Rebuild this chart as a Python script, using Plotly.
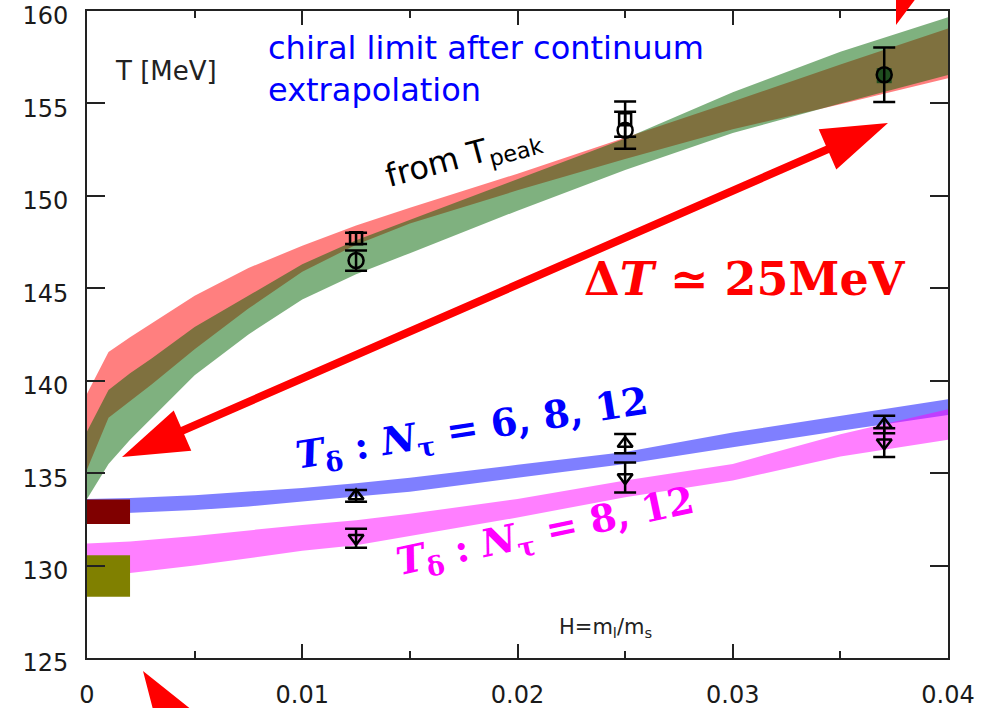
import math
import plotly.graph_objects as go

# ---------------- data ----------------
# band edges: T [MeV] versus H = m_l/m_s
h_grid = [0, 0.001, 0.002, 0.003, 0.005, 0.0075, 0.01, 0.0125, 0.015, 0.02, 0.025, 0.03, 0.035, 0.04]
tpeak_red_hi = [139.3, 141.55, 142.35, 143.1, 144.6, 146.1, 147.3, 148.4, 149.35, 151.2, 153.15, 155.1, 157.1, 159.05]
tpeak_red_lo = [135.2, 138.0, 138.9, 139.8, 141.7, 143.9, 145.9, 147.35, 148.5, 150.3, 152.0, 153.6, 154.95, 156.36]
tpeak_grn_hi = [137.25, 139.5, 140.4, 141.2, 142.9, 144.6, 146.3, 147.6, 148.7, 150.9, 153.1, 155.6, 157.8, 159.66]
tpeak_grn_lo = [133.6, 135.5, 136.8, 138.0, 140.3, 142.5, 144.4, 145.76, 146.9, 149.2, 151.4, 153.4, 155.0, 156.54]

h_grid_d = [0, 0.002, 0.005, 0.0075, 0.01, 0.0125, 0.015, 0.02, 0.025, 0.03, 0.035, 0.04]
tdelta_6812_hi = [133.6, 133.65, 133.8, 134.0, 134.2, 134.46, 134.75, 135.45, 136.15, 137.2, 138.1, 139.0]
tdelta_6812_lo = [132.75, 132.85, 133.0, 133.2, 133.45, 133.73, 134.0, 134.75, 135.5, 136.4, 137.3, 138.15]
tdelta_812_hi = [131.2, 131.3, 131.6, 131.9, 132.2, 132.45, 132.8, 133.6, 134.6, 135.5, 137.1, 138.45]
tdelta_812_lo = [129.5, 129.6, 130.0, 130.4, 130.8, 131.1, 131.6, 132.6, 133.7, 134.6, 135.9, 136.8]

# chiral-limit boxes
box_h = [0, 0.002]
box_dark_red = [132.25, 133.57]
box_olive = [128.32, 130.56]

# lattice points at H = 1/80, 1/40, 1/27
h_pts = [1 / 80, 1 / 40, 1 / 27]
t_square = [147.7, 154.15]
e_square = [0.3, 0.95]
t_square_phys = [156.5]
t_circle = [146.5, 153.55, 156.55]
e_circle = [0.55, 1.0, 1.47]
t_tri_up = [133.77, 136.6, 137.63]
e_tri_up = [0.32, 0.52, 0.47]
t_tri_dn = [131.48, 134.76, 136.65]
e_tri_dn = [0.51, 0.81, 0.78]

x_tickvals = [0, 0.01, 0.02, 0.03, 0.04]
x_ticktext = ["0", "0.01", "0.02", "0.03", "0.04"]
y_tickvals = [125, 130, 135, 140, 145, 150, 155, 160]
y_ticktext = ["125", "130", "135", "140", "145", "150", "155", "160"]

# ---------------- layout geometry ----------------
W, H = 983, 708
ML, MR, MT, MB = 87, 35, 11, 50
PW, PH = W - ML - MR, H - MT - MB
AXC = "#222222"


def paper(px, py):
    return (px - ML) / PW, (H - MB - py) / PH


fig = go.Figure()


def band(x, lo, hi, color):
    fig.add_trace(go.Scatter(
        x=list(x) + list(x)[::-1], y=list(hi) + list(lo)[::-1],
        fill="toself", fillcolor=color, line=dict(width=0),
        mode="lines", hoverinfo="skip", showlegend=False))


band(h_grid, tpeak_red_lo, tpeak_red_hi, "rgba(255,0,0,0.5)")
band(h_grid, tpeak_grn_lo, tpeak_grn_hi, "rgba(0,100,0,0.5)")
band(h_grid_d, tdelta_6812_lo, tdelta_6812_hi, "rgba(0,0,255,0.5)")
band(h_grid_d, tdelta_812_lo, tdelta_812_hi, "rgba(255,0,255,0.5)")


def box(lo_hi, color):
    x0, x1 = box_h
    y0, y1 = lo_hi
    fig.add_trace(go.Scatter(
        x=[x0, x1, x1, x0, x0], y=[y0, y0, y1, y1, y0],
        fill="toself", fillcolor=color, line=dict(width=0),
        mode="lines", hoverinfo="skip", showlegend=False))


box(box_dark_red, "#800000")
box(box_olive, "#808000")

# filled square at the physical mass ratio
fig.add_trace(go.Scatter(
    x=h_pts[2:], y=t_square_phys, mode="markers", showlegend=False,
    marker=dict(symbol="square", size=15, color="#1f4d1f", line=dict(width=0))))


def points(x, t, e, symbol, size):
    fig.add_trace(go.Scatter(
        x=x, y=t, mode="markers", showlegend=False,
        error_y=dict(type="data", array=e, visible=True,
                     color="black", thickness=2.5, width=11),
        marker=dict(symbol=symbol, size=size, color="black",
                    line=dict(color="black", width=2.5))))


points(h_pts[:2], t_square, e_square, "square-open", 12)
points(h_pts, t_circle, e_circle, "circle-open", 15)
points(h_pts, t_tri_up, e_tri_up, "triangle-up-open", 13)
points(h_pts, t_tri_dn, e_tri_dn, "triangle-down-open", 13)


# ---------------- red arrows ----------------
def arrow_path(tail, tip, heads=("tip",), w=8, hl=66, hw=22):
    dx, dy = tip[0] - tail[0], tip[1] - tail[1]
    L = math.hypot(dx, dy)
    ux, uy = dx / L, dy / L
    nx, ny = -uy, ux

    def off(p, a, b):
        return (p[0] + a * ux + b * nx, p[1] + a * uy + b * ny)

    pts = []
    if "tail" in heads:
        bt = off(tail, hl, 0)
        pts += [off(bt, 0, -w / 2), off(bt, 0, -hw), tail, off(bt, 0, hw), off(bt, 0, w / 2)]
    else:
        pts += [off(tail, 0, w / 2)]
    bh = off(tip, -hl, 0)
    pts += [off(bh, 0, w / 2), off(bh, 0, hw), tip, off(bh, 0, -hw), off(bh, 0, -w / 2)]
    if "tail" not in heads:
        pts += [off(tail, 0, -w / 2)]
    pp = [paper(*p) for p in pts]
    return "M " + " L ".join(f"{a:.5f},{b:.5f}" for a, b in pp) + " Z"


shapes = []
shapes.append(dict(type="path", xref="paper", yref="paper", layer="above",
                   path=arrow_path((122, 457), (888, 123), heads=("tip", "tail")),
                   fillcolor="#ff0000", line=dict(width=0)))
a1 = math.radians(18.4)
tip1 = (896, 25)
shapes.append(dict(type="path", xref="paper", yref="paper", layer="above",
                   path=arrow_path((tip1[0] + 200 * math.sin(a1), tip1[1] - 200 * math.cos(a1)), tip1),
                   fillcolor="#ff0000", line=dict(width=0)))
a2 = math.radians(33)
tip2 = (143, 671)
shapes.append(dict(type="path", xref="paper", yref="paper", layer="above",
                   path=arrow_path((tip2[0] + 200 * math.sin(a2), tip2[1] + 200 * math.cos(a2)), tip2),
                   fillcolor="#ff0000", line=dict(width=0)))

# ---------------- text ----------------
ann = []


def label(px, py, text, size, color="black", family="DejaVu Sans", angle=0,
          xanchor="center", yanchor="middle", align="center"):
    x, y = paper(px, py)
    ann.append(dict(xref="paper", yref="paper", x=x, y=y, text=text, showarrow=False,
                    textangle=angle, xanchor=xanchor, yanchor=yanchor, align=align,
                    font=dict(family=family, size=size, color=color)))


label(166, 71, "T [MeV]", 26, color="#222222")
label(266, 27, "chiral limit after continuum<br>extrapolation", 32, color="#0000ff",
      xanchor="left", yanchor="top", align="left")
label(463, 158, "from T<sub>peak</sub>", 32, angle=-15)
label(745, 279, "<b>Δ<i>T</i> ≃ 25MeV</b>", 46, color="#ff0000", family="DejaVu Serif")
label(472, 430, "<b><i>T</i><sub>δ</sub> : <i>N</i><sub>τ</sub> = 6, 8, 12</b>", 38,
      color="#0000ff", family="DejaVu Serif", angle=-9)
label(545, 533, "<b><i>T</i><sub>δ</sub> : <i>N</i><sub>τ</sub> = 8, 12</b>", 38,
      color="#ff00ff", family="DejaVu Serif", angle=-12)
label(605, 628, "H=m<sub>l</sub>/m<sub>s</sub>", 21, color="#222222")

fig.update_layout(
    width=W, height=H,
    margin=dict(l=ML, r=MR, t=MT, b=MB, autoexpand=False),
    paper_bgcolor="white", plot_bgcolor="white",
    shapes=shapes, annotations=ann,
    xaxis=dict(range=[0, 0.04], tickvals=x_tickvals, ticktext=x_ticktext,
               ticks="inside", ticklen=14, tickwidth=2, tickcolor=AXC,
               minor=dict(dtick=0.005, tick0=0, ticks="inside", ticklen=7, tickwidth=2, tickcolor=AXC),
               showline=True, linewidth=2, linecolor=AXC, mirror="ticks",
               showgrid=False, zeroline=False, ticklabelstandoff=14, automargin=False,
               ticklabeloverflow="allow",
               tickfont=dict(family="DejaVu Sans", size=24, color="#1a1a1a")),
    yaxis=dict(range=[125, 160], tickvals=y_tickvals, ticktext=y_ticktext,
               ticks="inside", ticklen=18, tickwidth=2, tickcolor=AXC,
               showline=True, linewidth=2, linecolor=AXC, mirror="ticks",
               showgrid=False, zeroline=False, ticklabelstandoff=12, automargin=False,
               ticklabeloverflow="allow", ticklabelshift=5,
               tickfont=dict(family="DejaVu Sans", size=24, color="#1a1a1a")),
)

fig.write_html("out.html")
